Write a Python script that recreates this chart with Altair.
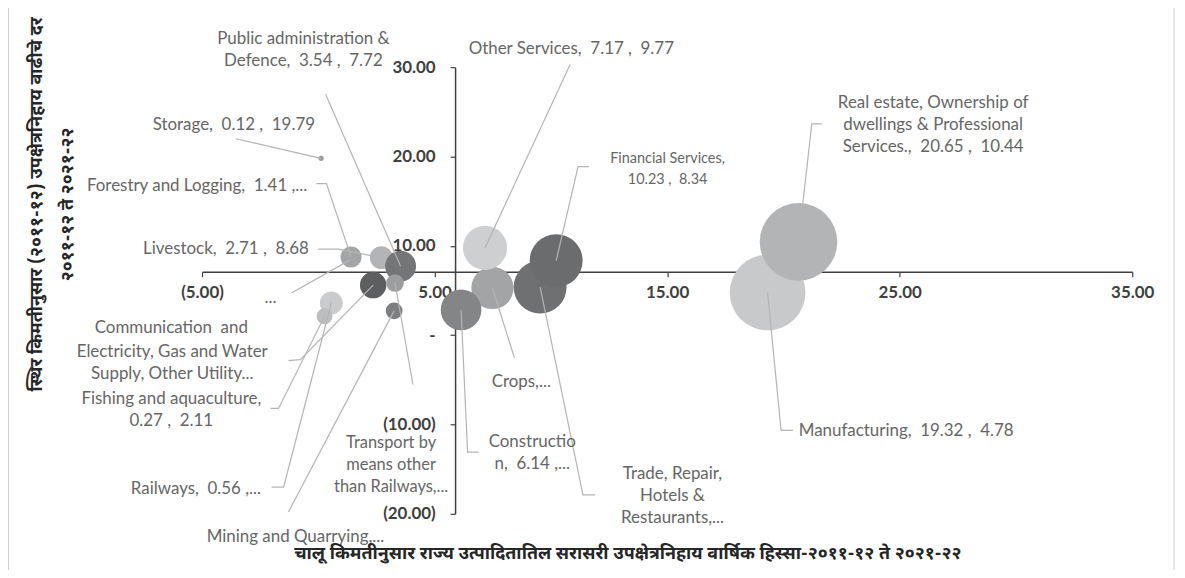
import altair as alt
import pandas as pd

# ---------------- data ----------------
sectors = [
    "Manufacturing", "Real estate", "Crops", "Other Services", "Construction",
    "Trade", "Financial Services", "Communication", "Forestry and Logging",
    "Livestock", "Public administration", "Electricity", "Transport",
    "Mining", "Railways", "Fishing", "Storage",
]
share = [19.32, 20.65, 7.49, 7.17, 6.14, 9.54, 10.23, 1.35, 1.41, 2.71, 3.54, 2.36, 3.30, 3.26, 0.56, 0.27, 0.12]
growth = [4.78, 10.44, 5.28, 9.77, 2.83, 5.39, 8.34, 8.40, 8.75, 8.68, 7.72, 5.61, 5.84, 2.72, 3.60, 2.11, 19.79]
bubble = [20.9, 21.9, 6.5, 7.1, 6.0, 10.2, 10.2, 0.7, 1.63, 1.91, 3.47, 2.55, 1.13, 1.02, 1.91, 0.92, 0.10]

# styles
fills = ["#c8c9cb", "#b3b4b6", "#a3a4a6", "#cecfd1", "#848587", "#6f7072", "#6b6c6e", "#a9aaac",
         "#a4a5a7", "#b3b4b6", "#747577", "#5d5e60", "#9c9d9f", "#7d7e80", "#cacbcd", "#bcbdbf", "#9c9c9c"]

S2 = "\u00a0 "  # a visible double space
# data labels (text lines; anchor = first line, in data units)
label_text = [
    [f"Manufacturing,{S2}19.32 ,{S2}4.78"],
    ["Real estate, Ownership of", "dwellings & Professional", f"Services.,{S2}20.65 ,{S2}10.44"],
    ["Crops,..."],
    [f"Other Services,{S2}7.17 ,{S2}9.77"],
    ["Constructio", f"n,{S2}6.14 ,..."],
    ["Trade, Repair,", "Hotels &", "Restaurants,..."],
    ["Financial Services,", f"10.23 ,{S2}8.34"],
    ["..."],
    [f"Forestry and Logging,{S2}1.41 ,..."],
    [f"Livestock,{S2}2.71 ,{S2}8.68"],
    ["Public administration &", f"Defence,{S2}3.54 ,{S2}7.72"],
    ["Electricity, Gas and Water", "Supply, Other Utility..."],
    ["Transport by", "means other", "than Railways,..."],
    ["Mining and Quarrying,..."],
    [f"Railways,{S2}0.56 ,..."],
    ["Fishing and aquaculture,", f"0.27 ,{S2}2.11"],
    [f"Storage,{S2}0.12 ,{S2}19.79"],
    [f"Communication{S2}and"],
]
label_x = [25.28, 26.44, 8.73, 10.88, 9.20, 15.23, 15.02, -2.05, -5.21, -3.97, -0.64, -6.28, 3.13, -0.98, -5.26, -6.32, -3.63, -6.32]
label_y = [-10.76, 25.99, -5.30, 32.01, -11.98, -15.54, 19.76, 4.16, 16.64, 9.62, 33.12, -1.85, -12.10, -22.56, -17.22, -7.19, 23.54, 0.82]
label_fs = [17, 17, 17, 17, 17, 17, 14.5, 17, 17, 17, 17, 17, 16.5, 17, 17, 17, 17, 17]

# leader lines: points from the label towards the bubble (bubble centre is appended)
leader_pts = [
    [(20.41, -10.65), (19.9, -10.65)],
    [(21.65, 23.65), (21.22, 23.65)],
    [(8.43, -2.52)],
    [(10.83, 30.3)],
    [(6.89, -13.1), (6.42, -13.1)],
    [(11.90, -17.88), (11.38, -17.88)],
    [(11.64, 18.86), (11.17, 18.86)],
    [(-1.15, 4.72)],
    [(-0.08, 16.97), (0.35, 16.97)],
    [(0.0, 9.62), (0.86, 9.62)],
    [(0.31, 26.99)],
    [(-1.28, -2.85), (-0.77, -2.74)],
    [(4.07, -5.52)],
    [(-1.28, -19.78)],
    [(-2.01, -17.0), (-1.49, -17.0)],
    [(-2.05, -8.2), (-1.71, -8.2)],
    [(-3.55, 21.98)],
]

x_ticks = [-5, 5, 15, 25, 35]
y_ticks = [-20, -10, 0, 10, 20, 30]
x_cross = 100 / 17      # vertical axis crosses at the mean share
y_cross = 7.1           # horizontal axis crosses at the mean growth

x_title = "चालू किमतीनुसार राज्य उत्पादितातिल सरासरी उपक्षेत्रनिहाय वार्षिक हिस्सा-२०११-१२ ते २०२१-२२"
y_title = ["स्थिर किमतीनुसार (२०११-१२) उपक्षेत्रनिहाय वाढीचे दर", "२०११-१२ ते २०२१-२२"]

# ---------------- build tables ----------------
W, H = 935, 449
XD, YD = [-5, 35], [-20, 30]

bub = pd.DataFrame({"sector": sectors, "share": share, "growth": growth,
                    "bubble": bubble, "z": list(range(len(sectors)))})
labels = pd.DataFrame({"lines": label_text, "lx": label_x, "ly": label_y, "fs": label_fs})
rows = []
for i, pts in enumerate(leader_pts):
    allp = list(pts) + [(share[i], growth[i])]
    for k, (px, py) in enumerate(allp):
        rows.append({"sector": sectors[i], "k": k, "lx": px, "ly": py})
leaders = pd.DataFrame(rows)

xs = alt.Scale(domain=XD, nice=False, zero=False)
ys = alt.Scale(domain=YD, nice=False, zero=False)

font = "Lato"
dev_font = "Noto Sans Devanagari, Noto Sans, Lohit Devanagari, sans-serif"

x_off = -(H * (y_cross - YD[0]) / (YD[1] - YD[0]))
y_off = -(W * (x_cross - XD[0]) / (XD[1] - XD[0]))

lab_expr = ("datum.value == 0 ? '-' : (datum.value < 0 ? '(' + format(-datum.value, '.2f') + ')' "
            ": format(datum.value, '.2f'))")

axis_common = dict(domainColor="#404040", domainWidth=1.5, tickColor="#404040", tickSize=5,
                   tickWidth=1.2, labelFont=font, labelFontWeight="bold", labelFontSize=17,
                   labelColor="#404040", grid=False, labelExpr=lab_expr,
                   labelFlush=False, labelOverlap=False)

bubbles = alt.Chart(bub).mark_circle(opacity=1).encode(
    x=alt.X("share:Q", scale=xs, title=None,
            axis=alt.Axis(values=x_ticks, offset=x_off, labelPadding=8, **axis_common)),
    y=alt.Y("growth:Q", scale=ys, title=None,
            axis=alt.Axis(values=y_ticks, offset=y_off, labelPadding=15, **axis_common)),
    size=alt.Size("bubble:Q", scale=alt.Scale(type="linear", domain=[0, 20], range=[0, 5552]), legend=None),
    color=alt.Color("sector:N", scale=alt.Scale(domain=sectors, range=fills), legend=None),
    order=alt.Order("z:Q"),
)

lines = alt.Chart(leaders).mark_line(color="#b4b4b4", strokeWidth=1.2).encode(
    x=alt.X("lx:Q", scale=xs, title=None),
    y=alt.Y("ly:Q", scale=ys, title=None),
    detail="sector:N",
    order="k:Q",
)

texts = alt.Chart(labels).mark_text(font=font, color="#666666", lineHeight=22,
                                    align="center", baseline="middle").encode(
    x=alt.X("lx:Q", scale=xs, title=None),
    y=alt.Y("ly:Q", scale=ys, title=None),
    text="lines:N",
    size=alt.Size("fs:Q", scale=None, legend=None),
)

one = pd.DataFrame({"t": [x_title]})
xt = alt.Chart(one).mark_text(font=dev_font, fontSize=18, fontWeight="bold", color="#262626",
                              align="center", baseline="middle").encode(
    x=alt.value(428), y=alt.value(489), text="t:N")

yt_df = pd.DataFrame({"t": [y_title]})
yt = alt.Chart(yt_df).mark_text(font=dev_font, fontSize=18, fontWeight="bold", color="#262626",
                                align="center", baseline="middle", angle=270, lineHeight=31).encode(
    x=alt.value(-166), y=alt.value(138), text="t:N")

frame = pd.DataFrame({"b": [0]})
border_l = alt.Chart(frame).mark_rule(color="#d0d0d0", strokeWidth=1).encode(
    x=alt.value(-194.5), y=alt.value(-70), y2=alt.value(520))
border_r = alt.Chart(frame).mark_rule(color="#d0d0d0", strokeWidth=1).encode(
    x=alt.value(977), y=alt.value(-70), y2=alt.value(520))

chart = alt.layer(bubbles, lines, texts, border_l, border_r, xt, yt).properties(
    width=W, height=H,
    background="white",
    autosize=alt.AutoSizeParams(type="none"),
    padding={"left": 195, "top": 58, "right": 45, "bottom": 55},
).configure_view(stroke=None, strokeWidth=0)

chart.save("out.html", embed_options={"renderer": "svg", "actions": False})
